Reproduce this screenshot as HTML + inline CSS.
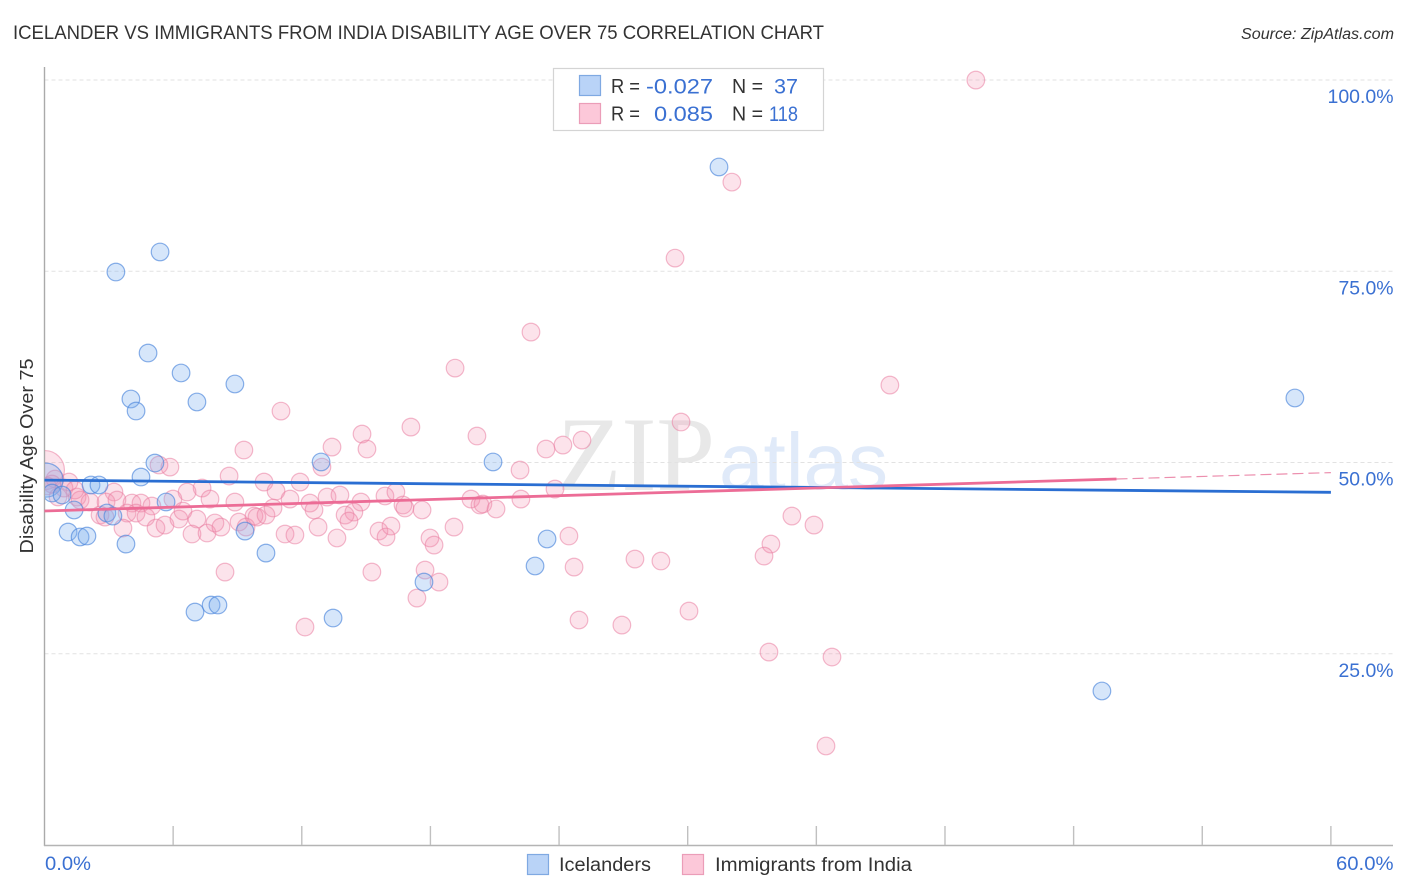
<!DOCTYPE html>
<html lang="en">
<head>
<meta charset="utf-8">
<title>Icelander vs Immigrants from India Disability Age Over 75 Correlation Chart</title>
<style>
html,body{margin:0;padding:0;background:#fff;}
svg{display:block;font-family:"Liberation Sans",sans-serif;}
</style>
</head>
<body>
<svg id="chart" xmlns="http://www.w3.org/2000/svg" width="1406" height="892" viewBox="0 0 1406 892">
  <defs>
    <clipPath id="plot-clip"><rect x="45" y="60" width="1348" height="785"/></clipPath>
  </defs>
  <rect x="0" y="0" width="1406" height="892" fill="#fff"/>
  <text x="13" y="39" font-size="19" fill="#333" textLength="811" lengthAdjust="spacingAndGlyphs">ICELANDER VS IMMIGRANTS FROM INDIA DISABILITY AGE OVER 75 CORRELATION CHART</text>
  <text x="1241" y="39" font-size="15.5" font-style="italic" fill="#333" textLength="153" lengthAdjust="spacingAndGlyphs">Source: ZipAtlas.com</text>

  <g>
    <text x="557" y="490" font-family="'Liberation Serif',serif" font-size="106" fill="#e8e8e8" textLength="158" lengthAdjust="spacingAndGlyphs">ZIP</text>
    <text x="719" y="489" font-size="80" fill="#e0eaf9" textLength="169" lengthAdjust="spacingAndGlyphs">atlas</text>
  </g>

  <g id="grid"></g>
  <g id="axes"></g>
  <g id="india-points" clip-path="url(#plot-clip)"></g>
  <g id="ice-points" clip-path="url(#plot-clip)"></g>
  <g id="trends"></g>
  <g id="labels"></g>

  <text transform="translate(33,456) rotate(-90)" text-anchor="middle" font-size="18" fill="#333" textLength="195" lengthAdjust="spacingAndGlyphs">Disability Age Over 75</text>

  <g>
    <rect x="553.5" y="68.5" width="270" height="62" fill="#fff" stroke="#d4d4d4" stroke-width="1.2"/>
    <rect x="579.5" y="75.5" width="21" height="20" fill="#b9d3f7" stroke="#7fa9e2" stroke-width="1.2"/>
    <rect x="579.5" y="103.5" width="21" height="20" fill="#fcc8d9" stroke="#eb9db8" stroke-width="1.2"/>
    <g font-size="20" fill="#333">
      <text x="611" y="93" textLength="29" lengthAdjust="spacingAndGlyphs">R =</text>
      <text x="732" y="93" textLength="31" lengthAdjust="spacingAndGlyphs">N =</text>
      <text x="611" y="120.5" textLength="29" lengthAdjust="spacingAndGlyphs">R =</text>
      <text x="732" y="120.5" textLength="31" lengthAdjust="spacingAndGlyphs">N =</text>
    </g>
    <g font-size="21" fill="#3a70d2">
      <text x="646" y="93.5" textLength="67" lengthAdjust="spacingAndGlyphs">-0.027</text>
      <text x="774" y="93.5" textLength="24" lengthAdjust="spacingAndGlyphs">37</text>
      <text x="654" y="121" textLength="59" lengthAdjust="spacingAndGlyphs">0.085</text>
      <text x="769" y="121" textLength="29" lengthAdjust="spacingAndGlyphs">118</text>
    </g>
  </g>

  <g>
    <rect x="527.5" y="854.5" width="21" height="20" fill="#b9d3f7" stroke="#7fa9e2" stroke-width="1.2"/>
    <text x="559" y="871" font-size="19" fill="#333" textLength="92" lengthAdjust="spacingAndGlyphs">Icelanders</text>
    <rect x="682.5" y="854.5" width="21" height="20" fill="#fcc8d9" stroke="#eb9db8" stroke-width="1.2"/>
    <text x="715" y="871" font-size="19" fill="#333" textLength="197" lengthAdjust="spacingAndGlyphs">Immigrants from India</text>
  </g>
</svg>
<script>
const iceX = [0.07,31.46,5.39,3.33,4.83,6.37,8.88,4.03,4.27,7.11,58.32,5.15,12.90,20.92,4.50,2.17,2.54,0.35,0.82,5.67,1.38,2.91,3.19,9.35,1.10,1.66,1.98,3.80,10.33,23.44,22.88,17.70,7.02,7.77,8.09,13.46,49.32];
const iceY = [47.70,88.63,77.52,74.90,64.31,61.70,60.26,58.30,56.73,57.91,58.43,49.93,50.07,50.07,48.10,47.06,47.06,46.01,45.75,44.84,43.79,43.40,43.00,41.04,40.91,40.26,40.39,39.34,38.16,40.00,36.47,34.37,30.45,31.37,31.37,29.67,20.13];
const indiaX = [0.02,43.44,32.06,29.41,22.69,19.15,39.43,11.03,29.69,17.09,14.81,20.17,25.07,24.18,23.39,13.41,15.04,9.30,5.85,5.34,12.94,22.18,8.61,10.24,11.92,10.80,7.35,6.65,7.72,8.88,11.45,5.99,3.24,1.14,0.49,0.35,1.52,1.66,2.12,2.87,3.38,4.08,4.50,5.01,3.85,4.27,4.73,2.59,2.82,3.66,5.20,5.62,6.27,6.46,7.11,6.88,7.58,7.95,8.23,8.42,9.07,9.40,9.77,9.91,10.33,10.66,11.22,11.68,12.15,12.38,12.57,13.18,13.78,14.76,14.43,14.02,14.20,12.76,13.64,15.88,16.39,16.72,16.81,17.61,15.60,16.16,15.93,15.27,17.75,18.40,17.37,17.98,18.17,19.10,19.89,20.31,20.45,21.06,22.22,23.81,24.46,24.70,27.54,28.75,24.93,26.93,30.06,34.86,35.89,33.88,33.56,33.79,36.73,36.45,0.91,0.12,1.42,0.63];
const indiaY = [49.01,99.99,86.65,76.72,67.05,62.34,60.12,56.72,55.29,54.63,53.72,53.46,52.93,52.28,51.76,52.02,51.76,51.63,49.40,49.67,49.40,49.01,48.23,47.44,47.44,46.27,46.66,46.14,45.22,44.83,45.22,45.22,46.14,47.44,47.84,47.18,45.48,45.09,44.83,44.83,45.09,44.70,44.70,44.31,43.39,43.39,42.87,43.13,42.87,41.43,41.43,41.82,42.61,43.65,42.61,40.65,40.78,42.09,41.56,35.68,42.22,41.56,43.00,42.87,43.13,44.05,40.65,40.52,28.49,44.70,43.79,45.48,45.75,44.83,43.52,43.13,42.35,41.56,40.13,45.62,46.14,44.44,44.05,43.79,41.04,41.69,40.26,35.68,35.94,34.37,32.28,40.13,39.21,41.56,45.22,44.44,44.57,43.92,45.22,46.53,40.39,36.33,37.38,37.12,29.41,28.75,30.58,43.00,41.82,39.34,37.77,25.22,24.57,12.94,46.66,46.93,46.40,45.50];
const yTicks = [25,50,75,100];
const yTickLabels = ["25.0%","50.0%","75.0%","100.0%"];
const xTicks = [0,6,12,18,24,30,36,42,48,54,60];
const xEndLabels = ["0.0%","60.0%"];
const xEndValues = [0,60];
const iceTrendX = [0,60];
const iceTrendY = [47.7,46.1];
const indiaTrendX = [0,50];
const indiaTrendY = [43.66,47.84];
const indiaDashX = [50,60];
const indiaDashY = [47.84,48.68];

const NS = "http://www.w3.org/2000/svg";
const xs = v => 44.5 + v * 21.44;
const ys = v => 845 - v * 7.65;
function mk(parent, tag, attrs, text){
  const el = document.createElementNS(NS, tag);
  for (const k in attrs) el.setAttribute(k, attrs[k]);
  if (text !== undefined) el.textContent = text;
  parent.appendChild(el);
  return el;
}
const grid = document.getElementById("grid");
const axes = document.getElementById("axes");
const labels = document.getElementById("labels");
const trends = document.getElementById("trends");

yTicks.forEach((t, i) => {
  const g = mk(grid, "line", {x1:44.5, x2:1393, y1:ys(t), y2:ys(t), stroke:"#e2e2e2", "stroke-width":1, "stroke-dasharray":"4 3"});
  
  
  const label = yTickLabels[i];
  const l = mk(labels, "text", {x:1393.5 - (label.length * 11 ), y:ys(t)+23, "font-size":19.5, fill:"#3a70d2", textLength:label.length * 11, lengthAdjust:"spacingAndGlyphs"}, label);
  
  
});

const yAxis = mk(axes, "line", {x1:44.5, x2:44.5, y1:67, y2:846, stroke:"#aaa", "stroke-width":1.4});


const xAxis = mk(axes, "line", {x1:44, x2:1393, y1:845.5, y2:845.5, stroke:"#b4b4b4", "stroke-width":1.4});


xTicks.forEach(t => {
  if (t === 0) return;
  const tick = mk(axes, "line", {x1:xs(t), x2:xs(t), y1:826, y2:845, stroke:"#c0c0c0", "stroke-width":1.4});
  
  
});
xEndValues.forEach((v, i) => {
  const label = xEndLabels[i];
  const w = label.length * 11.5;
  const attrs = {x:i === 0 ? xs(v) + 0.5 : 1393.5 - w, y:870, "font-size":19.5, fill:"#3a70d2", textLength:w, lengthAdjust:"spacingAndGlyphs"};
  const l = mk(labels, "text", attrs, label);
  
  
});

const indiaGroup = document.getElementById("india-points");
indiaX.forEach((x, i) => {
  const c = mk(indiaGroup, "circle", {cx:xs(x), cy:ys(indiaY[i]), r:i === 0 ? 19.5 : 8.8, fill:"#f48fb1", "fill-opacity":0.25, stroke:"#e97fa3", "stroke-opacity":0.55, "stroke-width":1.2});
  
  
});
const iceGroup = document.getElementById("ice-points");
iceX.forEach((x, i) => {
  const c = mk(iceGroup, "circle", {cx:xs(x), cy:ys(iceY[i]), r:i === 0 ? 17 : 8.8, fill:"#7fb0ee", "fill-opacity":0.32, stroke:"#4c86dc", "stroke-opacity":0.65, "stroke-width":1.2});
  
  
});

const iceLine = mk(trends, "line", {x1:xs(iceTrendX[0]), y1:ys(iceTrendY[0]), x2:xs(iceTrendX[1]), y2:ys(iceTrendY[1]), stroke:"#2a6ed2", "stroke-width":2.8});


const indiaLine = mk(trends, "line", {x1:xs(indiaTrendX[0]), y1:ys(indiaTrendY[0]), x2:xs(indiaTrendX[1]), y2:ys(indiaTrendY[1]), stroke:"#ec6c96", "stroke-width":2.8});


const indiaDash = mk(trends, "line", {x1:xs(indiaDashX[0]), y1:ys(indiaDashY[0]), x2:xs(indiaDashX[1]), y2:ys(indiaDashY[1]), stroke:"#ec8fae", "stroke-width":1.2, "stroke-dasharray":"11 5"});


</script>
</body>
</html>
